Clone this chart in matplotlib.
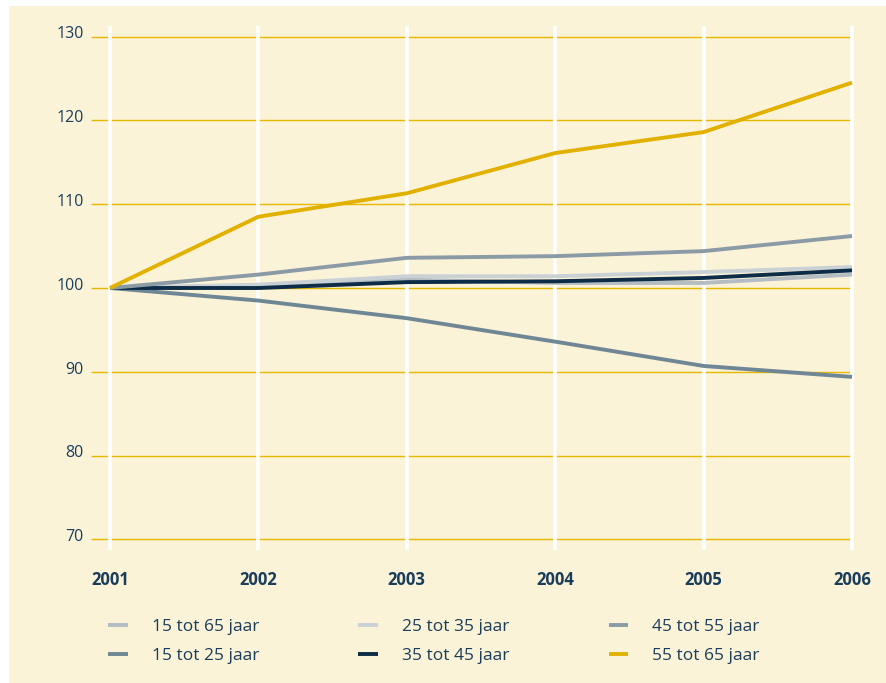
import matplotlib
matplotlib.use("Agg")
import matplotlib.pyplot as plt
import matplotlib.transforms as mtransforms
from matplotlib.patches import Rectangle

# data (index 2001 = 100)
years = [2001, 2002, 2003, 2004, 2005, 2006]
s_15_65 = [100, 100.3, 101.0, 100.6, 100.6, 101.6]
s_15_25 = [100, 98.5, 96.4, 93.6, 90.7, 89.4]
s_25_35 = [100, 100.4, 101.4, 101.4, 101.9, 102.5]
s_35_45 = [100, 100.0, 100.7, 100.8, 101.2, 102.1]
s_45_55 = [100, 101.6, 103.6, 103.8, 104.4, 106.2]
s_55_65 = [100, 108.5, 111.3, 116.1, 118.6, 124.5]
labels = ["15 tot 65 jaar", "15 tot 25 jaar", "25 tot 35 jaar",
          "35 tot 45 jaar", "45 tot 55 jaar", "55 tot 65 jaar"]
yticks = [70, 80, 90, 100, 110, 120, 130]

colors = ["#b3bdc3", "#6f8795", "#c9d1d5", "#0c2c47", "#8a9ba6", "#e2b100"]
series = [s_15_65, s_15_25, s_25_35, s_35_45, s_45_55, s_55_65]

cream = "#fbf3d8"
navy = "#1a3d5c"
gold = "#e8b800"

plt.rcParams["font.family"] = ["Open Sans", "DejaVu Sans"]

W, H = 886, 683
fig = plt.figure(figsize=(W / 100, H / 100), dpi=100)
fig.patch.set_facecolor("white")
fig.patches.append(Rectangle((9 / W, 0), 1, 1 - 6 / H, transform=fig.transFigure,
                             facecolor=cream, edgecolor="none", zorder=-10))

ax = fig.add_axes([85 / W, (H - 560) / H, 785 / W, 545 / H])
ax.set_facecolor("none")
ax.set_xlim(2001 + (85 - 110) / 148.4, 2001 + (870 - 110) / 148.4)
ax.set_ylim(100 - 272 / 8.383, 100 + 273 / 8.383)
for sp in ax.spines.values():
    sp.set_visible(False)

x0 = 2001 + (91 - 110) / 148.4
ax.hlines(yticks, x0, 2006, color=gold, lw=1.0, zorder=1)
ax.vlines(years, 68.7, 131.3, color="white", lw=2.6, zorder=2)

for vals, c, lab in zip(series, colors, labels):
    ax.plot(years, vals, color=c, lw=2.8, label=lab, zorder=3,
            solid_capstyle="butt")

ax.set_xticks(years)
ax.set_xticklabels([str(y) for y in years], fontweight="bold", fontsize=12, color=navy)
ax.set_yticks(yticks)
ax.set_yticklabels([str(v) for v in yticks], fontsize=11.5, color=navy)
ax.tick_params(length=0)
ax.tick_params(axis="x", pad=8)
ax.tick_params(axis="y", pad=1)
off = mtransforms.ScaledTranslation(0, 3 / 72, fig.dpi_scale_trans)
for t in ax.get_yticklabels():
    t.set_transform(t.get_transform() + off)

leg = fig.legend(loc="upper left", bbox_to_anchor=(108 / W, 1 - 619 / H), ncol=3,
                 frameon=False, fontsize=12.5, handlelength=1.15, handletextpad=1.38,
                 columnspacing=5.7, labelspacing=0.72, borderpad=0, borderaxespad=0)
for t in leg.get_texts():
    t.set_color(navy)

fig.savefig("out.png", dpi=100, facecolor=fig.get_facecolor())
